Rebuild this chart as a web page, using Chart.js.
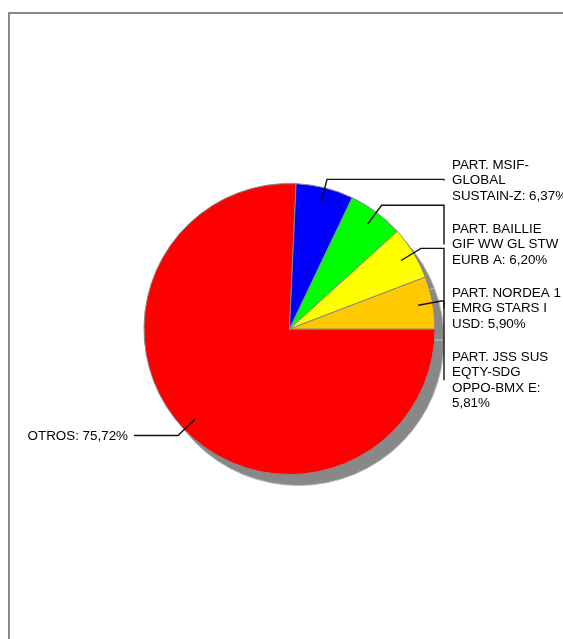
<!DOCTYPE html>
<html>
<head>
<meta charset="utf-8">
<script src="https://cdn.jsdelivr.net/npm/chart.js@4"></script>
<style>
  html, body { margin: 0; padding: 0; background: #fff; overflow: hidden; }
  canvas { display: block; }
</style>
</head>
<body>
<canvas id="myChart" width="563" height="639"></canvas>
<script>
const categories = [
    'OTROS',
    'PART. MSIF-GLOBAL SUSTAIN-Z',
    'PART. BAILLIE GIF WW GL STW EURB A',
    'PART. NORDEA 1 EMRG STARS I USD',
    'PART. JSS SUS EQTY-SDG OPPO-BMX E'
];
const values = [75.72, 6.37, 6.20, 5.90, 5.81];
const labelLines = [
    ['OTROS: 75,72%'],
    ['PART. MSIF-', 'GLOBAL', 'SUSTAIN-Z: 6,37%'],
    ['PART. BAILLIE', 'GIF WW GL STW', 'EURB A: 6,20%'],
    ['PART. NORDEA 1', 'EMRG STARS I', 'USD: 5,90%'],
    ['PART. JSS SUS', 'EQTY-SDG', 'OPPO-BMX E:', '5,81%']
];
const colors = ['#ff0000', '#0000ff', '#00ff00', '#ffff00', '#ffc800'];

// frame around the plot + drop shadow under the pie
const backdrop = {
    id: 'backdrop',
    beforeDraw(chart) {
        const c = chart.ctx;
        c.save();
        c.strokeStyle = '#888';
        c.lineWidth = 2;
        c.strokeRect(9, 13, 700, 800);
        c.restore();
    },
    beforeDatasetsDraw(chart) {
        const c = chart.ctx;
        const arcs = chart.getDatasetMeta(0).data;
        c.save();
        arcs.forEach(a => {
            c.beginPath();
            c.moveTo(a.x + 9, a.y + 11);
            c.arc(a.x + 9, a.y + 11, a.outerRadius, a.startAngle, a.endAngle);
            c.closePath();
            c.fillStyle = '#888';
            c.fill();
            c.strokeStyle = '#bbb';
            c.lineWidth = 1;
            c.stroke();
        });
        c.restore();
    }
};

// leader lines and labels
const leaders = {
    id: 'leaders',
    afterDatasetsDraw(chart) {
        const c = chart.ctx;
        const arcs = chart.getDatasetMeta(0).data;
        const lineH = 15.5, gap = 17.5;
        c.save();
        c.font = '13.4px "Liberation Sans", Arial, sans-serif';
        c.fillStyle = '#000';
        c.strokeStyle = '#111';
        c.lineWidth = 1.4;
        c.textBaseline = 'middle';
        let prevBottom = -Infinity;
        arcs.forEach((a, i) => {
            const mid = (a.startAngle + a.endAngle) / 2;
            const r = a.outerRadius;
            const x0 = a.x + Math.cos(mid) * r * 0.9, y0 = a.y + Math.sin(mid) * r * 0.9;
            const x1 = a.x + Math.cos(mid) * r * 1.06, y1 = a.y + Math.sin(mid) * r * 1.06;
            const lines = labelLines[i];
            const h = lines.length * lineH;
            c.beginPath();
            c.moveTo(x0, y0);
            c.lineTo(x1, y1);
            if (Math.cos(mid) < 0) {
                const x2 = x1 - 44;
                c.lineTo(x2, y1);
                c.stroke();
                c.textAlign = 'right';
                lines.forEach((t, k) => c.fillText(t, x2 - 6, y1 + 1 + (k - (lines.length - 1) / 2) * lineH));
            } else {
                const x2 = a.x + r + 9;
                const ly = Math.max(y1 + 1, prevBottom + gap + h / 2);
                prevBottom = ly + h / 2;
                c.lineTo(x2, y1);
                c.lineTo(x2, ly);
                c.stroke();
                c.textAlign = 'left';
                lines.forEach((t, k) => c.fillText(t, x2 + 8, ly + (k - (lines.length - 1) / 2) * lineH));
            }
        });
        c.restore();
    }
};

const ctx = document.getElementById('myChart').getContext('2d');
new Chart(ctx, {
    type: 'pie',
    data: {
        labels: categories,
        datasets: [{
            data: values,
            backgroundColor: colors,
            borderColor: '#888',
            borderWidth: 1
        }]
    },
    options: {
        responsive: false,
        animation: false,
        rotation: 90,
        layout: { padding: { left: 143.5, right: 127.5, top: 183, bottom: 164 } },
        plugins: {
            legend: { display: false },
            tooltip: { enabled: false }
        }
    },
    plugins: [backdrop, leaders]
});
</script>
</body>
</html>
